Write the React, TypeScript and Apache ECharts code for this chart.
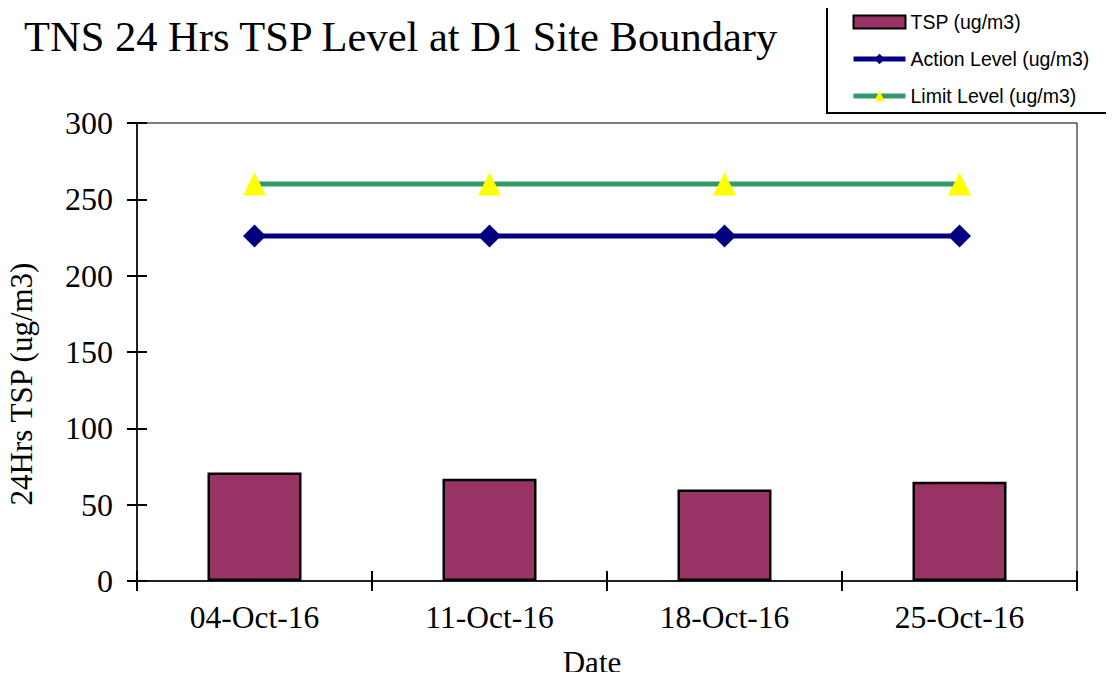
import React, { useEffect, useRef } from "react";
import * as echarts from "echarts";

const categories = ["04-Oct-16", "11-Oct-16", "18-Oct-16", "25-Oct-16"];
const tspValues = [71, 67, 60, 65];
const actionLevel = [226, 226, 226, 226];
const limitLevel = [260, 260, 260, 260];
const yTicks = { min: 0, max: 300, interval: 50 };

const SERIF = "'Liberation Serif', 'Times New Roman', serif";
const SANS = "'Liberation Sans', Arial, sans-serif";

export default function App() {
  const ref = useRef<HTMLDivElement>(null);
  useEffect(() => {
    if (!ref.current) return;
    const chart = echarts.init(ref.current, undefined, { renderer: "svg" });
    const yBase = {
      type: "value",
      min: yTicks.min,
      max: yTicks.max,
      interval: yTicks.interval,
      splitLine: { show: false },
    };
    chart.setOption({
      animation: false,
      backgroundColor: "#fff",
      title: {
        text: "TNS 24 Hrs TSP Level at D1 Site Boundary",
        left: 19,
        top: 10,
        textStyle: { fontFamily: SERIF, fontSize: 42.5, fontWeight: "normal", color: "#000" },
      },
      graphic: [
        {
          type: "rect",
          shape: { x: 827, y: 6, width: 300, height: 107 },
          style: { fill: "#fff", stroke: "#000", lineWidth: 2 },
          z: 0,
        },
      ],
      legend: {
        orient: "vertical",
        left: 851,
        top: 12,
        padding: 0,
        itemWidth: 52,
        itemHeight: 13,
        itemGap: 17,
        textStyle: { fontFamily: SANS, fontSize: 19.5, color: "#000" },
        data: [
          { name: "TSP (ug/m3)", icon: "rect", itemStyle: { borderWidth: 2, borderColor: "#000" } },
          { name: "Action Level (ug/m3)", lineStyle: { width: 5 } },
          { name: "Limit Level (ug/m3)", lineStyle: { width: 5 } },
        ],
        z: 5,
      },
      grid: {
        left: 137,
        right: 37,
        top: 123,
        bottom: 99,
        show: true,
        borderColor: "#000",
        borderWidth: 1,
        outerBoundsMode: "none",
        containLabel: false,
      },
      xAxis: [
        {
          type: "category",
          data: categories,
          axisLine: { lineStyle: { color: "#000", width: 1.5 } },
          axisTick: { show: true, length: 10, lineStyle: { color: "#000", width: 2 } },
          axisLabel: { fontFamily: SERIF, fontSize: 31.5, color: "#000", margin: 20 },
          name: "Date",
          nameLocation: "middle",
          nameGap: 66,
          nameTextStyle: { fontFamily: SERIF, fontSize: 31, color: "#000", padding: [0, 30, 0, 0] },
        },
        {
          type: "category",
          data: categories,
          position: "bottom",
          axisLine: { show: false },
          axisTick: { show: true, inside: true, length: 10, lineStyle: { color: "#000", width: 2 } },
          axisLabel: { show: false },
        },
      ],
      yAxis: [
        {
          ...yBase,
          axisLine: { show: true, lineStyle: { color: "#000", width: 1.5 } },
          axisTick: { show: true, length: 10, lineStyle: { color: "#000", width: 2 } },
          axisLabel: { fontFamily: SERIF, fontSize: 32, color: "#000", margin: 24 },
          name: "24Hrs TSP (ug/m3)",
          nameLocation: "middle",
          nameRotate: 90,
          nameGap: 100,
          nameTextStyle: { fontFamily: SERIF, fontSize: 31, color: "#000", padding: [0, 64, 0, 0] },
        },
        {
          ...yBase,
          position: "left",
          axisLine: { show: false },
          axisTick: { show: true, inside: true, length: 10, lineStyle: { color: "#000", width: 2 } },
          axisLabel: { show: false },
        },
      ],
      series: [
        {
          name: "TSP (ug/m3)",
          type: "bar",
          data: tspValues,
          barWidth: "40%",
          itemStyle: { color: "#993366", borderColor: "#000", borderWidth: 2.5 },
          z: 2,
        },
        {
          name: "Action Level (ug/m3)",
          type: "line",
          data: actionLevel,
          symbol: "diamond",
          symbolSize: 23,
          lineStyle: { color: "#000080", width: 5 },
          itemStyle: { color: "#000080" },
          z: 3,
        },
        {
          name: "Limit Level (ug/m3)",
          type: "line",
          data: limitLevel,
          symbol: "triangle",
          symbolSize: 23,
          lineStyle: { color: "#339966", width: 5 },
          itemStyle: { color: "#FFFF00" },
          z: 3,
        },
      ],
    });
    return () => chart.dispose();
  }, []);
  return <div ref={ref} style={{ width: 1114, height: 680, margin: -8 }} />;
}
